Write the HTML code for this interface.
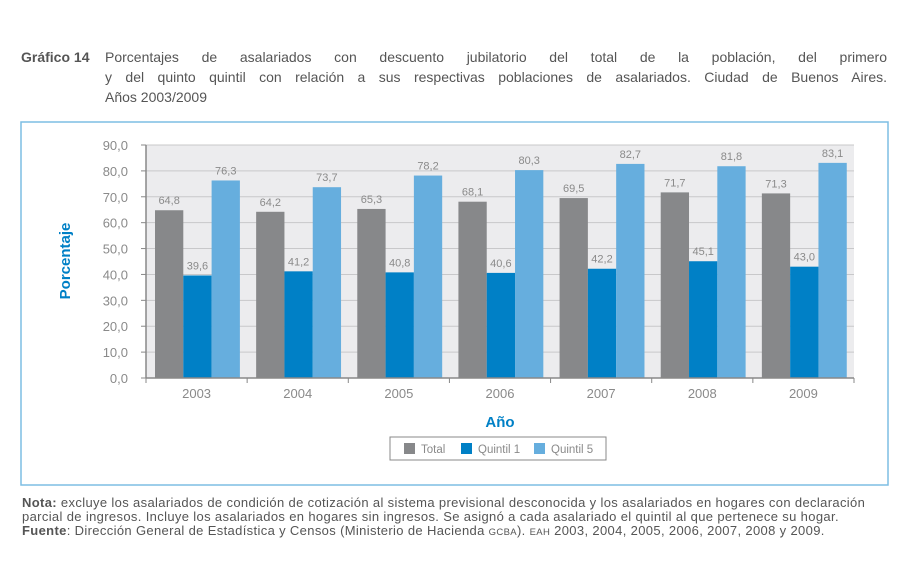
<!DOCTYPE html>
<html><head><meta charset="utf-8"><style>
body{margin:0;width:907px;height:567px;background:#fff;font-family:"Liberation Sans",sans-serif;position:relative;overflow:hidden}
.t{position:absolute;color:#555;font-size:14px;line-height:20px}
.j{text-align:justify;text-align-last:justify}
.n{position:absolute;left:22px;color:#555;font-size:13px;letter-spacing:0.35px;line-height:14px;white-space:nowrap}
</style></head><body>
<div class="t" style="left:21px;top:47px;font-weight:bold">Gráfico 14</div>
<div class="t j" style="left:105px;top:47px;width:782px">Porcentajes de asalariados con descuento jubilatorio del total de la población, del primero</div>
<div class="t j" style="left:105px;top:67px;width:782px">y del quinto quintil con relación a sus respectivas poblaciones de asalariados. Ciudad de Buenos Aires.</div>
<div class="t" style="left:105px;top:87px">Años 2003/2009</div>
<svg width="907" height="567" style="position:absolute;left:0;top:0" id="svg">
<rect x="21" y="122" width="867" height="363" fill="none" stroke="#7dbde3" stroke-width="1.5"/>
</svg>
<div class="n" style="top:496px"><b>Nota:</b> excluye los asalariados de condición de cotización al sistema previsional desconocida y los asalariados en hogares con declaración</div>
<div class="n" style="top:510px">parcial de ingresos. Incluye los asalariados en hogares sin ingresos. Se asignó a cada asalariado el quintil al que pertenece su hogar.</div>
<div class="n" style="top:524px"><b>Fuente</b>: Dirección General de Estadística y Censos (Ministerio de Hacienda <span style="font-size:9.5px">GCBA</span>). <span style="font-size:9.5px">EAH</span> 2003, 2004, 2005, 2006, 2007, 2008 y 2009.</div>
<script>
const categories=["2003","2004","2005","2006","2007","2008","2009"];
const totalValues=[64.8,64.2,65.3,68.1,69.5,71.7,71.3];
const q1Values=[39.6,41.2,40.8,40.6,42.2,45.1,43.0];
const q5Values=[76.3,73.7,78.2,80.3,82.7,81.8,83.1];
const yTicks=[0,10,20,30,40,50,60,70,80,90];
const seriesNames=["Total","Quintil 1","Quintil 5"];
const colors=["#87888a","#0080c6","#66aede"];
const NS="http://www.w3.org/2000/svg";
const svg=document.getElementById('svg');
const L=146,R=854,T=145,B=378,yMax=90;
const y=v=>B-(v/yMax)*(B-T);
const cw=(R-L)/categories.length;
const x=i=>L+i*cw;
function mk(tag,a,txt){const e=document.createElementNS(NS,tag);for(const k in a)e.setAttribute(k,a[k]);if(txt!==undefined)e.textContent=txt;svg.appendChild(e);return e;}
let e=mk('rect',{x:L,y:T,width:R-L,height:B-T,fill:"#ececee"});


yTicks.forEach(t=>{
  if(t>0){e=mk('line',{x1:L,x2:R,y1:y(t),y2:y(t),stroke:"#c8c8ca","stroke-width":1});
  
  }
  e=mk('line',{x1:L-5,x2:L,y1:y(t),y2:y(t),stroke:"#888"});
  
  
  e=mk('text',{x:L-18,y:y(t)+5,"text-anchor":"end","font-size":13,fill:"#8a8a8a"},t.toFixed(1).replace('.',','));
  
  
});
const series=[totalValues,q1Values,q5Values];
const bw=28.3,off=9;
categories.forEach((c,i)=>{
  series.forEach((s,k)=>{
    const bx=x(i)+off+k*bw;
    e=mk('rect',{x:bx,y:y(s[i]),width:bw,height:B-y(s[i]),fill:colors[k]});
    
    
    e=mk('text',{x:bx+bw/2,y:y(s[i])-6,"text-anchor":"middle","font-size":11,fill:"#8a8a8a"},s[i].toFixed(1).replace('.',','));
    
    
  });
  e=mk('text',{x:x(i)+cw/2,y:B+20,"text-anchor":"middle","font-size":13,fill:"#8a8a8a"},c);
  
  
  e=mk('line',{x1:x(i),x2:x(i),y1:B,y2:B+5,stroke:"#888"});
  
  
});
e=mk('line',{x1:R,x2:R,y1:B,y2:B+5,stroke:"#888"});


e=mk('line',{x1:L,x2:R,y1:B,y2:B,stroke:"#888","stroke-width":1.5});


e=mk('line',{x1:L,x2:L,y1:T,y2:B,stroke:"#888","stroke-width":1.5});


e=mk('text',{x:500,y:427,"text-anchor":"middle","font-size":15,"font-weight":"bold",fill:"#0080c6"},"Año");


e=mk('text',{x:0,y:0,"text-anchor":"middle","font-size":15,"font-weight":"bold",fill:"#0080c6",transform:"translate(70,261) rotate(-90)"},"Porcentaje");


e=mk('rect',{x:390,y:437,width:216,height:23,fill:"#fff",stroke:"#888"});


const lx=[404,461,534];
seriesNames.forEach((n,k)=>{
  e=mk('rect',{x:lx[k],y:443,width:11,height:11,fill:colors[k]});
  
  
  e=mk('text',{x:lx[k]+17,y:453,"font-size":11.5,fill:"#8a8a8a"},n);
  
  
});
</script>
</body></html>
